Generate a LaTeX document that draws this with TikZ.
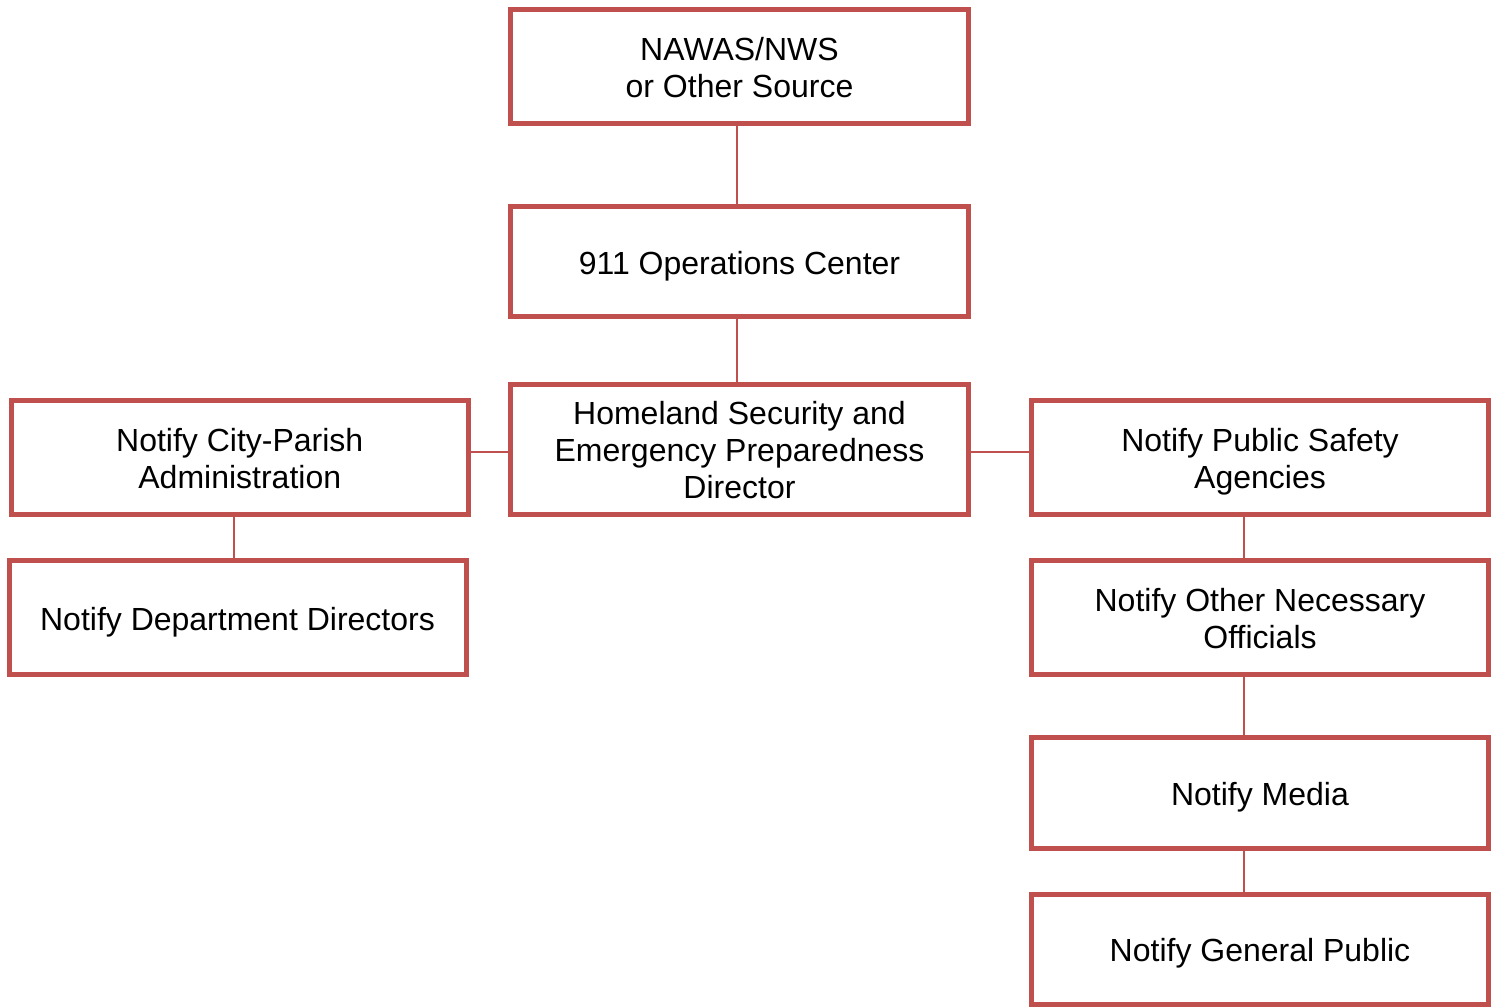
\documentclass[tikz,border=0pt]{standalone}
\usepackage{fontspec}
\setmainfont{Liberation Sans}
\definecolor{boxred}{HTML}{C0504D}
% struts giving the first line its ascent and the last line its descent
\newcommand\topstrut{\rule{0pt}{1.0em}}
\newcommand\botstrut{\rule[-0.212em]{0pt}{0.212em}}
\begin{document}
\begin{tikzpicture}[x=1pt,y=-1pt,
  flowbox/.style={draw=boxred, line width=5pt, fill=white, rectangle,
    inner sep=0pt, outer sep=0pt, align=center,
    font=\fontsize{32}{37}\selectfont},
  link/.style={draw=boxred, line width=2pt}]
\useasboundingbox (0,0) rectangle (1497,1007);
% central chain
\node[flowbox, minimum width=458pt, minimum height=114pt] (nawas) at (739.5,66) {\topstrut NAWAS/NWS\\or Other Source\botstrut};
\node[flowbox, minimum width=458pt, minimum height=110pt] (ops) at (739.5,261.5) {\topstrut 911 Operations Center\botstrut};
\node[flowbox, minimum width=458pt, minimum height=130pt] (dir) at (739.5,449) {\topstrut Homeland Security and\\Emergency Preparedness\\Director\botstrut};
% left branch
\node[flowbox, minimum width=457.5pt, minimum height=113.5pt] (city) at (239.75,457.25) {\topstrut Notify City-Parish\\Administration\botstrut};
\node[flowbox, minimum width=457pt, minimum height=114pt] (dept) at (237.5,617.5) {\topstrut Notify Department Directors\botstrut};
% right branch
\node[flowbox, minimum width=457pt, minimum height=113.5pt] (safety) at (1260,457.25) {\topstrut Notify Public Safety\\Agencies\botstrut};
\node[flowbox, minimum width=457pt, minimum height=114pt] (other) at (1260,617) {\topstrut Notify Other Necessary\\Officials\botstrut};
\node[flowbox, minimum width=457pt, minimum height=111pt] (media) at (1260,793) {\topstrut Notify Media\botstrut};
\node[flowbox, minimum width=457pt, minimum height=110.5pt] (public) at (1260,949.25) {\topstrut Notify General Public\botstrut};
% connector guide columns
\coordinate (cmid) at (737,0);
\coordinate (cleft) at (234,0);
\coordinate (cright) at (1244,0);
\coordinate (crow) at (0,452);
% connectors
\draw[link] (nawas.south -| cmid) -- (ops.north -| cmid);
\draw[link] (ops.south -| cmid) -- (dir.north -| cmid);
\draw[link] (city.east |- crow) -- (dir.west |- crow);
\draw[link] (dir.east |- crow) -- (safety.west |- crow);
\draw[link] (city.south -| cleft) -- (dept.north -| cleft);
\draw[link] (safety.south -| cright) -- (other.north -| cright);
\draw[link] (other.south -| cright) -- (media.north -| cright);
\draw[link] (media.south -| cright) -- (public.north -| cright);
\end{tikzpicture}
\end{document}
